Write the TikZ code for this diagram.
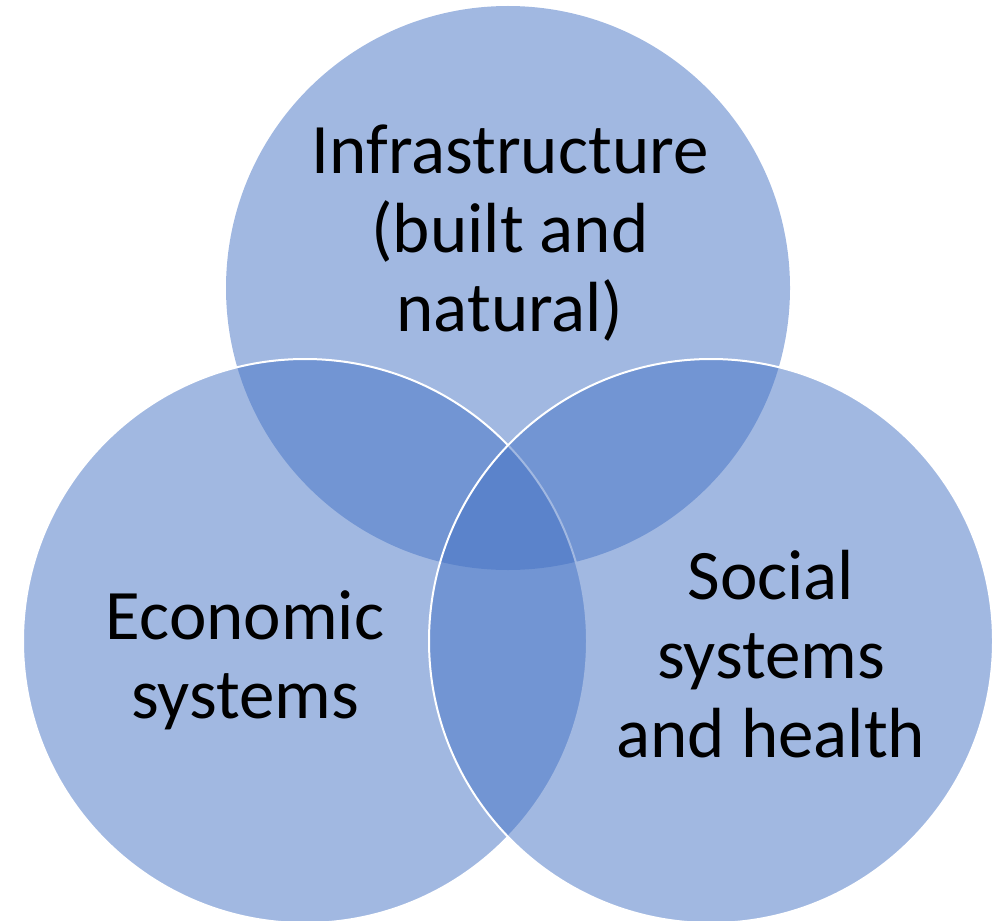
\documentclass[tikz,border=0pt]{standalone}
\usepackage{fontspec}
\setmainfont{Carlito}
\definecolor{vennblue}{HTML}{4472C4}
\begin{document}
\begin{tikzpicture}[x=0.5pt,y=-0.5pt,
  disc/.style={fill=vennblue,fill opacity=0.5},
  rimmed/.style={disc,draw=white,draw opacity=1,line width=1pt},
  caption/.style={align=center,text=black,inner sep=0pt,
    font=\fontsize{35.5pt}{39.5pt}\selectfont}]
  \useasboundingbox (0,0) rectangle (1000,920);
  \clip (0,0) rectangle (1000,920);
  % the three overlapping domains
  \fill[disc] (508,288) circle[radius=282];
  \filldraw[rimmed] (305,641) circle[radius=282];
  \filldraw[rimmed] (711,641) circle[radius=282];
  % labels (anchored at the baseline of their last line)
  \node[caption,anchor=base] (infra) at (510,331) {Infrastructure\\(built and\\natural)};
  \node[caption,anchor=base] (econ) at (245,718) {Economic\\systems};
  \node[caption,anchor=base] (social) at (771,757) {Social\\systems\\and health};
\end{tikzpicture}
\end{document}
